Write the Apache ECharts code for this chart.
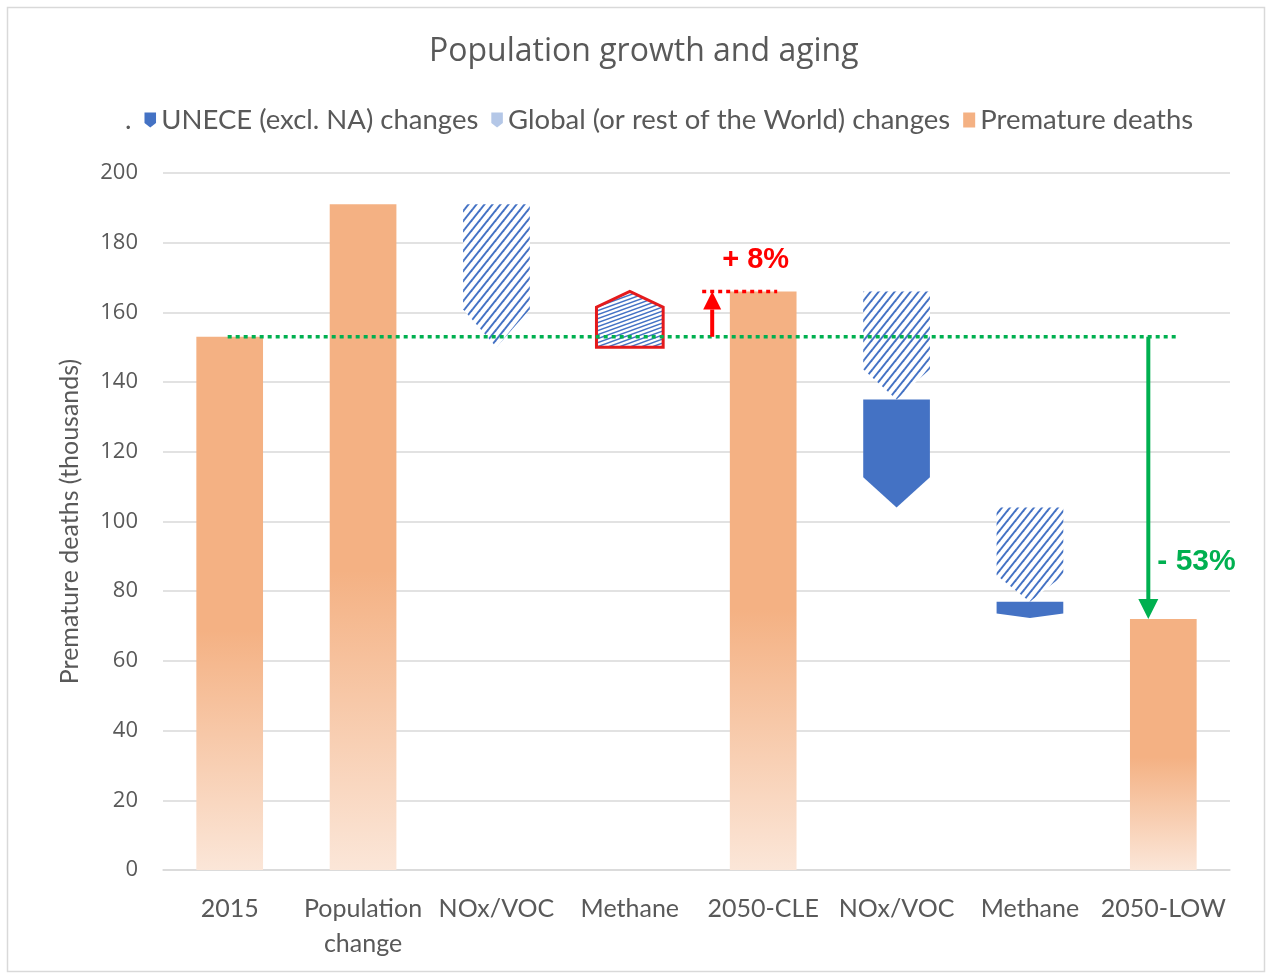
<!DOCTYPE html>
<html>
<head>
<meta charset="utf-8">
<script src="https://cdn.jsdelivr.net/npm/echarts@6/dist/echarts.min.js"></script>
<style>
  html, body { margin: 0; padding: 0; background: #fff; }
  #chart { width: 1268px; height: 973px; }
</style>
</head>
<body>
<div id="chart"></div>
<script>
const categories = ['2015', 'Population\nchange', 'NOx/VOC', 'Methane', '2050-CLE', 'NOx/VOC', 'Methane', '2050-LOW'];
const deaths = [153, 191, null, null, 166, null, null, 72];
const globalStart = [null, null, 191, 150, null, 166, 104, null];
const globalEnd = [null, null, 150, 166, null, 135, 77, null];
const uneceStart = [null, null, null, null, null, 135, 77, null];
const uneceEnd = [null, null, null, null, null, 104, 72.3, null];
const changeLabels = ['+ 8%', '- 53%'];

const blue = '#4472C4';
const grey = '#595959';

// small striped tile used as fill for the "global" arrows
function hatch(w, h, lw) {
  let c = document.createElement('canvas');
  c.width = w; c.height = h;
  let ctx = c.getContext('2d');
  ctx.fillStyle = '#fff';
  ctx.fillRect(0, 0, w, h);
  ctx.strokeStyle = blue;
  ctx.lineWidth = lw;
  for (let k = -1; k <= 1; k++) {
    ctx.beginPath();
    ctx.moveTo(k * w - w, 2 * h);
    ctx.lineTo(k * w + 2 * w, -h);
    ctx.stroke();
  }
  return c;
}
const steep = {image: hatch(8, 10, 2), repeat: 'repeat'};
const shallow = {image: hatch(11, 4, 1.5), repeat: 'repeat'};

function toItems(start, end) {
  let out = [];
  start.forEach((s, i) => { if (s != null) out.push([i, s, end[i]]); });
  return out;
}

function arrowPoints(api) {
  let i = api.value(0);
  let a = api.coord([i, api.value(1)]);
  let b = api.coord([i, api.value(2)]);
  let bw = api.size([1, 0])[0] * 0.5;
  let x0 = a[0] - bw / 2, x1 = a[0] + bw / 2;
  let len = Math.abs(b[1] - a[1]);
  let dir = b[1] > a[1] ? 1 : -1;
  let tip = Math.min(len * 0.28, 38);
  let ys = b[1] - dir * tip;
  return {up: dir < 0, points: [[x0, a[1]], [x1, a[1]], [x1, ys], [a[0], b[1]], [x0, ys]]};
}

function renderGlobal(params, api) {
  let s = arrowPoints(api);
  return {
    type: 'polygon',
    shape: {points: s.points},
    style: s.up ? {fill: shallow, stroke: '#E41A1C', lineWidth: 3} : {fill: steep, stroke: null}
  };
}

function renderUnece(params, api) {
  let s = arrowPoints(api);
  return {type: 'polygon', shape: {points: s.points}, style: {fill: blue}};
}

function vArrow(x, yFrom, yTo, color, head) {
  let dir = yTo > yFrom ? 1 : -1;
  let yBase = yTo - dir * head;
  return [
    {type: 'line', shape: {x1: x, y1: yFrom, x2: x, y2: yBase}, style: {stroke: color, lineWidth: 4}},
    {type: 'polygon', shape: {points: [[x - head / 2, yBase], [x + head / 2, yBase], [x, yTo]]}, style: {fill: color}}
  ];
}

function renderNotes(params, api) {
  let green = '#00B050', red = '#FF0000';
  let base = api.coord([0, deaths[0]]);
  let cle = api.coord([4, deaths[4]]);
  let low = api.coord([7, deaths[7]]);
  let yBase = base[1];
  let children = [
    {type: 'line', shape: {x1: base[0] - 2, y1: yBase, x2: low[0] + 15, y2: yBase},
     style: {stroke: green, lineWidth: 3.5, lineDash: [4, 4]}},
    {type: 'line', shape: {x1: cle[0] - 61, y1: cle[1], x2: cle[0] + 14, y2: cle[1]},
     style: {stroke: red, lineWidth: 3.5, lineDash: [4, 4]}}
  ];
  children = children.concat(vArrow(low[0] - 15, yBase, low[1], green, 20));
  children = children.concat(vArrow(cle[0] - 51, yBase, cle[1], red, 18));
  children.push({type: 'text', x: cle[0] - 41, y: cle[1] - 31,
    style: {text: changeLabels[0], fill: red, font: 'bold 29px "Liberation Sans", Arial', verticalAlign: 'middle'}});
  children.push({type: 'text', x: low[0] - 6, y: low[1] - 57,
    style: {text: changeLabels[1], fill: green, font: 'bold 30px "Liberation Sans", Arial', verticalAlign: 'middle'}});
  return {type: 'group', children: children};
}

const chart = echarts.init(document.getElementById('chart'));
chart.setOption({
  animation: false,
  backgroundColor: '#fff',
  title: {
    text: 'Population growth and aging',
    left: 424,
    top: 31,
    textStyle: {fontFamily: '"Open Sans"', fontSize: 32, fontWeight: 'normal', color: grey}
  },
  legend: {
    top: 101,
    left: 103,
    itemWidth: 12,
    itemHeight: 15,
    itemGap: 13,
    textStyle: {fontFamily: 'Lato', fontSize: 27.5, color: grey},
    data: [
      {name: '.', icon: 'rect', itemStyle: {color: 'rgba(0,0,0,0)'}},
      {name: 'UNECE (excl. NA) changes', icon: 'path://M0,0 L10,0 L10,9 L5,13 L0,9 Z', itemStyle: {color: blue}},
      {name: 'Global (or rest of the World) changes', icon: 'path://M0,0 L10,0 L10,9 L5,13 L0,9 Z', itemStyle: {color: '#B4C7E7'}},
      {name: 'Premature deaths', icon: 'rect', itemStyle: {color: '#F4B183'}}
    ]
  },
  graphic: [{
    type: 'rect', left: 5, top: 5, z: -10,
    shape: {width: 1257, height: 964},
    style: {fill: 'none', stroke: '#D9D9D9', lineWidth: 1.5}
  }],
  grid: {left: 163, right: 38, top: 173, bottom: 103},
  xAxis: {
    type: 'category',
    data: categories,
    axisLine: {lineStyle: {color: '#D9D9D9', width: 1.5}},
    axisTick: {show: false},
    axisLabel: {fontFamily: 'Lato', fontSize: 25, color: grey, lineHeight: 35, margin: 21, interval: 0}
  },
  yAxis: {
    type: 'value',
    min: 0,
    max: 200,
    interval: 20,
    name: 'Premature deaths (thousands)',
    nameLocation: 'middle',
    nameGap: 81,
    nameTextStyle: {fontFamily: 'Lato', fontSize: 25, color: grey},
    axisLine: {show: false},
    axisTick: {show: false},
    axisLabel: {fontFamily: '"Open Sans"', fontSize: 22, color: grey, margin: 25},
    splitLine: {lineStyle: {color: '#D9D9D9', width: 1.5}}
  },
  series: [
    {name: '.', type: 'line', data: []},
    {
      name: 'Premature deaths',
      type: 'bar',
      barWidth: '50%',
      data: deaths,
      itemStyle: {
        color: new echarts.graphic.LinearGradient(0, 0, 0, 1, [
          {offset: 0, color: '#F4B183'},
          {offset: 0.55, color: '#F4B183'},
          {offset: 1, color: '#FBE6D8'}
        ])
      }
    },
    {
      name: 'Global (or rest of the World) changes',
      type: 'custom',
      renderItem: renderGlobal,
      encode: {x: 0, y: [1, 2]},
      itemStyle: {color: '#B4C7E7'},
      data: toItems(globalStart, globalEnd),
      z: 3
    },
    {
      name: 'UNECE (excl. NA) changes',
      type: 'custom',
      renderItem: renderUnece,
      encode: {x: 0, y: [1, 2]},
      itemStyle: {color: blue},
      data: toItems(uneceStart, uneceEnd),
      z: 3
    },
    {
      name: 'notes',
      type: 'custom',
      renderItem: renderNotes,
      encode: {x: 0, y: 1},
      data: [[0, deaths[0]]],
      silent: true,
      z: 10
    }
  ]
});
</script>
</body>
</html>
